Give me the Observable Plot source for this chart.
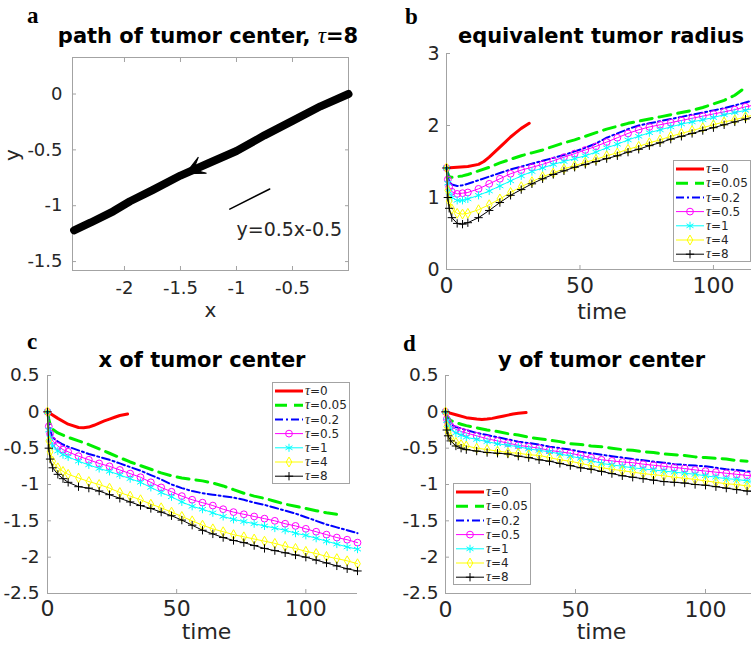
<!DOCTYPE html>
<html><head><meta charset="utf-8">
<script src="https://cdn.jsdelivr.net/npm/d3@7"></script>
<script src="https://cdn.jsdelivr.net/npm/@observablehq/plot@0.6"></script>
<style>
html,body{margin:0;padding:0;background:#fff;overflow:hidden;width:751px;height:645px}
#wrap{position:relative;width:751px;height:645px;overflow:hidden;background:#fff}
#wrap svg{position:absolute}
</style></head><body><div id="wrap"></div>
<script>
// ---------------- data ----------------
// panel a: path of tumor center (tau = 8)
const pathX = [0, -0.25, -0.5, -0.75, -1.0, -1.25, -1.5, -1.75, -1.95, -2.1, -2.3, -2.45];
const pathY = [0, -0.11, -0.24, -0.37, -0.51, -0.62, -0.73, -0.86, -0.96, -1.05, -1.15, -1.22];
const arrowX = [-1.455];
const arrowY = [-0.714];
const refLineX = [-1.06, -0.703];
const refLineY = [-1.03, -0.85];
const refLabelX = [-1.0];
const refLabelY = [-1.27];
const refLabel = ["y=0.5x-0.5"];
const xTicksA = [-2, -1.5, -1, -0.5];
const yTicksA = [0, -0.5, -1, -1.5];
const xDomainA = [-2.464, 0];
const yDomainA = [-1.58, 0.327];

// time series panels
const tauLabels = ["0", "0.05", "0.2", "0.5", "1", "4", "8"];
const timeSteps = [0,0.5,1,2,4,6,8,12,16,20,24,28,32,36,40,44,48,52,56,60,64,68,72,76,80,84,88,92,96,100,104,108,112,116,120];
const timeRed = [0,4,8,12,14,16,18,20,22,24,26,28,31];

// panel b: equivalent tumor radius
const radius_tau0    = [1.41,1.42,1.43,1.46,1.50,1.56,1.63,1.70,1.77,1.84,1.90,1.96,2.03];
const radius_tau0_05 = [1.41,1.33,1.29,1.28,1.29,1.30,1.32,1.37,1.42,1.48,1.53,1.58,1.62,1.66,1.71,1.76,1.80,1.85,1.90,1.95,1.99,2.03,2.06,2.09,2.12,2.15,2.18,2.21,2.25,2.30,2.35,2.42,2.53,null,null];
const radius_tau0_2  = [1.41,1.30,1.22,1.18,1.16,1.17,1.19,1.24,1.29,1.34,1.39,1.43,1.47,1.51,1.55,1.59,1.64,1.69,1.75,1.83,1.89,1.95,2.00,2.03,2.06,2.09,2.12,2.15,2.18,2.21,2.24,2.28,2.32,2.36,2.40];
const radius_tau0_5  = [1.41,1.25,1.15,1.08,1.05,1.06,1.07,1.12,1.19,1.26,1.33,1.38,1.42,1.46,1.51,1.56,1.61,1.66,1.71,1.77,1.83,1.89,1.94,1.98,2.01,2.04,2.07,2.10,2.13,2.16,2.19,2.22,2.26,2.29,2.32];
const radius_tau1    = [1.41,1.20,1.08,1.00,0.96,0.96,0.98,1.03,1.09,1.16,1.23,1.30,1.36,1.41,1.46,1.50,1.54,1.58,1.63,1.69,1.74,1.80,1.85,1.90,1.94,1.98,2.02,2.05,2.08,2.11,2.15,2.18,2.21,2.25,2.28];
const radius_tau4    = [1.41,1.10,0.95,0.84,0.78,0.77,0.78,0.83,0.90,0.98,1.07,1.15,1.22,1.29,1.34,1.40,1.44,1.49,1.53,1.58,1.62,1.67,1.71,1.76,1.80,1.85,1.89,1.93,1.97,2.01,2.05,2.08,2.12,2.15,2.18];
const radius_tau8    = [1.41,1.00,0.85,0.72,0.64,0.63,0.65,0.72,0.82,0.93,1.03,1.11,1.19,1.26,1.32,1.37,1.42,1.46,1.50,1.54,1.58,1.63,1.67,1.72,1.76,1.81,1.85,1.89,1.93,1.97,2.01,2.05,2.09,2.13,2.16];

// panel c: x of tumor center
const xc_tau0    = [0,-0.09,-0.17,-0.215,-0.22,-0.21,-0.185,-0.155,-0.125,-0.10,-0.075,-0.05,-0.03];
const xc_tau0_05 = [0,-0.10,-0.17,-0.24,-0.29,-0.32,-0.35,-0.40,-0.45,-0.51,-0.57,-0.63,-0.69,-0.74,-0.79,-0.84,-0.88,-0.91,-0.93,-0.95,-0.98,-1.02,-1.07,-1.12,-1.16,-1.19,-1.23,-1.27,-1.30,-1.33,-1.36,-1.39,-1.41,null,null];
const xc_tau0_2  = [0,-0.15,-0.25,-0.35,-0.41,-0.45,-0.48,-0.53,-0.58,-0.62,-0.66,-0.71,-0.76,-0.81,-0.87,-0.93,-1.00,-1.05,-1.09,-1.12,-1.14,-1.16,-1.18,-1.21,-1.25,-1.28,-1.32,-1.36,-1.40,-1.45,-1.50,-1.55,-1.59,-1.63,-1.67];
const xc_tau0_5  = [0,-0.20,-0.30,-0.40,-0.47,-0.52,-0.55,-0.61,-0.66,-0.71,-0.75,-0.80,-0.85,-0.90,-0.97,-1.04,-1.10,-1.16,-1.21,-1.25,-1.29,-1.34,-1.38,-1.41,-1.44,-1.47,-1.50,-1.54,-1.57,-1.61,-1.65,-1.69,-1.73,-1.76,-1.80];
const xc_tau1    = [0,-0.25,-0.36,-0.47,-0.54,-0.59,-0.62,-0.68,-0.73,-0.78,-0.82,-0.87,-0.92,-0.97,-1.04,-1.11,-1.17,-1.24,-1.30,-1.34,-1.39,-1.44,-1.48,-1.51,-1.54,-1.57,-1.60,-1.63,-1.67,-1.70,-1.74,-1.78,-1.82,-1.86,-1.89];
const xc_tau4    = [0,-0.40,-0.55,-0.68,-0.77,-0.82,-0.86,-0.91,-0.96,-1.00,-1.05,-1.11,-1.16,-1.21,-1.27,-1.32,-1.38,-1.44,-1.50,-1.56,-1.61,-1.65,-1.69,-1.72,-1.75,-1.78,-1.81,-1.85,-1.88,-1.92,-1.95,-1.99,-2.02,-2.05,-2.09];
const xc_tau8    = [0,-0.50,-0.65,-0.77,-0.86,-0.92,-0.97,-1.03,-1.05,-1.09,-1.14,-1.19,-1.24,-1.29,-1.33,-1.38,-1.43,-1.49,-1.56,-1.63,-1.68,-1.73,-1.77,-1.80,-1.84,-1.88,-1.91,-1.94,-1.97,-2.00,-2.04,-2.08,-2.12,-2.16,-2.19];

// panel d: y of tumor center
const yc_tau0    = [0,-0.04,-0.08,-0.10,-0.105,-0.10,-0.09,-0.075,-0.06,-0.045,-0.03,-0.02,-0.01];
const yc_tau0_05 = [0,-0.05,-0.08,-0.12,-0.15,-0.17,-0.19,-0.22,-0.25,-0.27,-0.30,-0.32,-0.35,-0.37,-0.39,-0.41,-0.44,-0.45,-0.47,-0.48,-0.50,-0.52,-0.53,-0.55,-0.56,-0.58,-0.59,-0.60,-0.62,-0.63,-0.64,-0.65,-0.67,-0.68,null];
const yc_tau0_2  = [0,-0.08,-0.12,-0.17,-0.21,-0.23,-0.25,-0.29,-0.32,-0.35,-0.38,-0.41,-0.43,-0.45,-0.48,-0.50,-0.52,-0.55,-0.57,-0.59,-0.61,-0.63,-0.65,-0.665,-0.685,-0.70,-0.72,-0.73,-0.74,-0.75,-0.77,-0.79,-0.80,-0.82,-0.83];
const yc_tau0_5  = [0,-0.10,-0.15,-0.20,-0.24,-0.27,-0.29,-0.33,-0.37,-0.40,-0.43,-0.46,-0.48,-0.50,-0.53,-0.55,-0.57,-0.60,-0.63,-0.66,-0.675,-0.69,-0.70,-0.72,-0.735,-0.75,-0.765,-0.78,-0.80,-0.815,-0.83,-0.845,-0.86,-0.875,-0.89];
const yc_tau1    = [0,-0.12,-0.18,-0.24,-0.29,-0.32,-0.35,-0.38,-0.41,-0.44,-0.46,-0.48,-0.51,-0.53,-0.55,-0.58,-0.61,-0.64,-0.67,-0.71,-0.73,-0.75,-0.77,-0.785,-0.80,-0.815,-0.83,-0.845,-0.86,-0.88,-0.90,-0.92,-0.93,-0.95,-0.96];
const yc_tau4    = [0,-0.20,-0.28,-0.36,-0.42,-0.45,-0.47,-0.50,-0.52,-0.54,-0.56,-0.57,-0.59,-0.60,-0.63,-0.66,-0.68,-0.71,-0.74,-0.77,-0.79,-0.81,-0.83,-0.85,-0.865,-0.88,-0.90,-0.915,-0.93,-0.95,-0.97,-0.99,-1.00,-1.02,-1.03];
const yc_tau8    = [0,-0.25,-0.33,-0.40,-0.47,-0.50,-0.52,-0.54,-0.56,-0.57,-0.58,-0.61,-0.63,-0.66,-0.68,-0.71,-0.74,-0.77,-0.79,-0.82,-0.85,-0.88,-0.90,-0.92,-0.94,-0.96,-0.97,-0.98,-1.00,-1.01,-1.03,-1.05,-1.07,-1.09,-1.10];

const timeTicks = [0, 50, 100];
const yTicksB = [0, 1, 2, 3];
const yTicksCD = [0.5, 0, -0.5, -1, -1.5, -2, -2.5];
const timeDomainB = [0, 116.5];
const timeDomainCD = [0, 120];
const yDomainB = [0, 3];
const yDomainCD = [-2.5, 0.5];

// ---------------- styles ----------------
const axisGrey = "#a3a3a3";
const textCol = "#262626";
const FONT = "DejaVu Sans";
const seriesStyle = {
  "0":    {color: "#ff0000", width: 3},
  "0.05": {color: "#00ee00", width: 3, dash: "12,7"},
  "0.2":  {color: "#0000ff", width: 2, dash: "8,3,2,3"},
  "0.5":  {color: "#ff00ff", width: 1, symbol: "circle", r: 3.4},
  "1":    {color: "#00ffff", width: 1, symbol: "asterisk", r: 3.8},
  "4":    {color: "#ffff00", width: 1, symbol: "diamond", r: 3},
  "8":    {color: "#000000", width: 1, symbol: "plus", r: 2.8}
};
const fmt = d => String(d);

function rows(times, values) {
  return times.map((t, i) => ({t, v: values[i]})).filter(d => d.v != null);
}
function panelData(arrs) {
  const o = {};
  tauLabels.forEach((k, i) => { o[k] = rows(k === "0" ? timeRed : timeSteps, arrs[i]); });
  return o;
}
const dataB = panelData([radius_tau0, radius_tau0_05, radius_tau0_2, radius_tau0_5, radius_tau1, radius_tau4, radius_tau8]);
const dataC = panelData([xc_tau0, xc_tau0_05, xc_tau0_2, xc_tau0_5, xc_tau1, xc_tau4, xc_tau8]);
const dataD = panelData([yc_tau0, yc_tau0_05, yc_tau0_2, yc_tau0_5, yc_tau1, yc_tau4, yc_tau8]);

function seriesMarks(data) {
  const marks = [];
  for (const k of tauLabels) {
    const s = seriesStyle[k];
    marks.push(Plot.line(data[k], {x: "t", y: "v", stroke: s.color, strokeWidth: s.width, strokeDasharray: s.dash, strokeLinejoin: "round"}));
    if (s.symbol) marks.push(Plot.dot(data[k], {x: "t", y: "v", symbol: s.symbol, r: s.r, stroke: s.color, fill: "none", strokeWidth: 1}));
  }
  return marks;
}

function timeAxes(xDomain, yDomain, yTicks, padX, padY, yFont) {
  return [
    Plot.ruleX([xDomain[0]], {stroke: axisGrey}),
    Plot.ruleY([yDomain[0]], {stroke: axisGrey}),
    Plot.axisX(timeTicks, {anchor: "bottom", tickSize: -4, tickFormat: () => "", color: axisGrey, label: null}),
    Plot.axisY(yTicks, {anchor: "left", tickSize: -4, tickFormat: () => "", color: axisGrey, label: null}),
    Plot.axisX(timeTicks, {anchor: "bottom", tickSize: 0, tickPadding: padX, tickFormat: fmt, fontSize: 22, color: textCol, label: null}),
    Plot.axisY(yTicks, {anchor: "left", tickSize: 0, tickPadding: padY, tickFormat: fmt, fontSize: yFont, color: textCol, label: null})
  ];
}

const wrap = document.getElementById("wrap");
function place(svg, left, top) {
  svg.style.position = "absolute";
  svg.style.left = left + "px";
  svg.style.top = top + "px";
  svg.style.maxWidth = "none";
  svg.style.background = "transparent";
  wrap.appendChild(svg);
}

// ---------------- panel a ----------------
const arrowHead = {
  draw(ctx) {
    ctx.moveTo(0, 0);
    ctx.lineTo(-19, -9);
    ctx.lineTo(-9, 0);
    ctx.lineTo(-19, 9);
    ctx.closePath();
  }
};
const pathRows = pathX.map((x, i) => ({x, y: pathY[i]}));
const refRows = refLineX.map((x, i) => ({x, y: refLineY[i]}));
const arrowRows = arrowX.map((x, i) => ({x, y: arrowY[i]}));
const refLabelRows = refLabelX.map((x, i) => ({x, y: refLabelY[i], text: refLabel[i]}));

const plotA = Plot.plot({
  width: 375, height: 320,
  marginLeft: 72, marginRight: 27, marginTop: 57, marginBottom: 50,
  x: {domain: xDomainA, label: null},
  y: {domain: yDomainA, label: null},
  style: {fontFamily: FONT, color: textCol, background: "transparent", overflow: "visible"},
  marks: [
    Plot.frame({stroke: axisGrey}),
    Plot.axisX(xTicksA, {anchor: "bottom", tickSize: -4, tickFormat: () => "", color: axisGrey, label: null}),
    Plot.axisX(xTicksA, {anchor: "top", tickSize: -4, tickFormat: () => "", color: axisGrey, label: null}),
    Plot.axisY(yTicksA, {anchor: "left", tickSize: -4, tickFormat: () => "", color: axisGrey, label: null}),
    Plot.axisY(yTicksA, {anchor: "right", tickSize: -4, tickFormat: () => "", color: axisGrey, label: null}),
    Plot.axisX(xTicksA, {anchor: "bottom", tickSize: 0, tickPadding: 11, tickFormat: fmt, fontSize: 18, color: textCol, label: null}),
    Plot.axisY(yTicksA, {anchor: "left", tickSize: 0, tickPadding: 10, tickFormat: fmt, fontSize: 18, color: textCol, label: null}),
    Plot.line(pathRows, {x: "x", y: "y", stroke: "black", strokeWidth: 8, strokeLinecap: "round", strokeLinejoin: "round"}),
    Plot.dot(arrowRows, {x: "x", y: "y", symbol: arrowHead, rotate: 153, fill: "black", stroke: "black", strokeWidth: 1}),
    Plot.line(refRows, {x: "x", y: "y", stroke: "black", strokeWidth: 1.5}),
    Plot.text(refLabelRows, {x: "x", y: "y", text: "text", textAnchor: "start", lineAnchor: "bottom", fontSize: 19, fill: textCol}),
    Plot.text(["x"], {text: d => d, frameAnchor: "bottom", lineAnchor: "bottom", dy: 46, fontSize: 20, fill: textCol}),
    Plot.text(["y"], {text: d => d, frameAnchor: "left", lineAnchor: "middle", dx: -60, dy: -3, rotate: -90, fontSize: 20, fill: textCol})
  ]
});
place(plotA, 0, 0);

// ---------------- panel b ----------------
const plotB = Plot.plot({
  width: 392, height: 320,
  marginLeft: 71, marginRight: 10, marginTop: 53, marginBottom: 51,
  x: {domain: timeDomainB, label: null},
  y: {domain: yDomainB, label: null},
  style: {fontFamily: FONT, color: textCol, background: "transparent", overflow: "visible"},
  marks: [
    ...timeAxes(timeDomainB, yDomainB, yTicksB, 8, 7, 19),
    ...seriesMarks(dataB),
    Plot.text(["time"], {text: d => d, frameAnchor: "bottom", lineAnchor: "bottom", dy: 49, fontSize: 22, fill: textCol})
  ]
});
place(plotB, 375, 0);

// ---------------- panel c ----------------
const plotC = Plot.plot({
  width: 375, height: 325,
  marginLeft: 47, marginRight: 18, marginTop: 55, marginBottom: 52,
  x: {domain: timeDomainCD, label: null},
  y: {domain: yDomainCD, label: null},
  style: {fontFamily: FONT, color: textCol, background: "transparent", overflow: "visible"},
  marks: [
    ...timeAxes(timeDomainCD, yDomainCD, yTicksCD, 7, 8, 18.5),
    ...seriesMarks(dataC),
    Plot.text(["time"], {text: d => d, frameAnchor: "bottom", lineAnchor: "bottom", dy: 45, dx: 4, fontSize: 22, fill: textCol})
  ]
});
place(plotC, 0, 320);

// ---------------- panel d ----------------
const plotD = Plot.plot({
  width: 392, height: 325,
  marginLeft: 70, marginRight: 10, marginTop: 55, marginBottom: 52,
  x: {domain: timeDomainCD, label: null},
  y: {domain: yDomainCD, label: null},
  style: {fontFamily: FONT, color: textCol, background: "transparent", overflow: "visible"},
  marks: [
    ...timeAxes(timeDomainCD, yDomainCD, yTicksCD, 8, 7, 18.5),
    ...seriesMarks(dataD),
    Plot.text(["time"], {text: d => d, frameAnchor: "bottom", lineAnchor: "bottom", dy: 45, fontSize: 22, fill: textCol})
  ]
});
place(plotD, 375, 320);

// ---------------- overlay: titles, panel letters, legends ----------------
const ov = d3.select("#wrap").append("svg")
  .attr("width", 751).attr("height", 645)
  .style("left", "0px").style("top", "0px").style("pointer-events", "none");

const titles = [
  {x: 208, y: 43.3, main: "path of tumor center, ", tau: "=8"},
  {x: 601, y: 43.3, main: "equivalent tumor radius"},
  {x: 202, y: 366.7, main: "x of tumor center"},
  {x: 601.5, y: 366.7, main: "y of tumor center"}
];
for (const t of titles) {
  const el = ov.append("text").attr("x", t.x).attr("y", t.y).attr("text-anchor", "middle")
    .attr("font-family", FONT).attr("font-weight", "bold").attr("font-size", 21).attr("fill", "#000");
  if (t.tau) {
    el.html(`${t.main}<tspan font-family="Liberation Serif" font-style="italic" font-weight="normal" font-size="23">τ</tspan>${t.tau}`);
  } else {
    el.text(t.main);
  }
}

const letters = [
  {t: "a", x: 27, y: 23}, {t: "b", x: 405, y: 24},
  {t: "c", x: 27, y: 349}, {t: "d", x: 403, y: 351}
];
for (const l of letters) {
  ov.append("text").attr("x", l.x).attr("y", l.y).attr("font-family", "Liberation Serif")
    .attr("font-weight", "bold").attr("font-size", 23).attr("fill", "#000").text(l.t);
}

function legend(x0, y0) {
  const g = ov.append("g").attr("transform", `translate(${x0},${y0})`);
  g.append("rect").attr("x", 0.5).attr("y", 0.5).attr("width", 77).attr("height", 101)
    .attr("fill", "#fff").attr("stroke", axisGrey);
  tauLabels.forEach((k, i) => {
    const s = seriesStyle[k];
    const y = 9 + i * 14.2;
    g.append("line").attr("x1", 3).attr("x2", 31).attr("y1", y).attr("y2", y)
      .attr("stroke", s.color).attr("stroke-width", s.width)
      .attr("stroke-dasharray", s.dash ? s.dash : null);
    if (s.symbol) {
      const sym = {circle: d3.symbolCircle, asterisk: d3.symbolAsterisk, diamond: d3.symbolDiamond, plus: d3.symbolPlus}[s.symbol];
      g.append("path").attr("transform", `translate(17,${y})`)
        .attr("d", d3.symbol(sym, Math.PI * s.r * s.r)())
        .attr("fill", "none").attr("stroke", s.color).attr("stroke-width", 1);
    }
    g.append("text").attr("x", 33).attr("y", y).attr("dy", "0.35em")
      .attr("font-family", FONT).attr("font-size", 12).attr("fill", textCol)
      .html(`<tspan font-family="Liberation Serif" font-style="italic" font-size="14">τ</tspan>=${k}`);
  });
}
legend(673, 160);
legend(272, 382);
legend(453, 483);
</script>
</body></html>
